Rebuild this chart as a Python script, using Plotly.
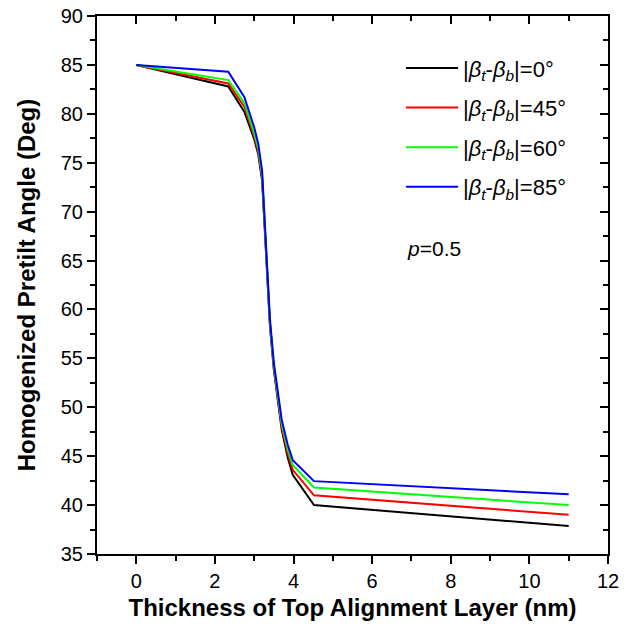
import plotly.graph_objects as go

thickness = [0, 2.34, 2.75, 3.0, 3.1, 3.2, 3.3, 3.4, 3.5, 3.6, 3.7, 3.85, 3.98, 4.52, 11.0]
angle_0 = [85, 82.8, 80.2, 77.4, 75.9, 73.2, 65.8, 58.3, 53.8, 50.7, 47.7, 44.9, 43.1, 40.0, 37.85]
angle_45 = [85, 83.1, 80.7, 77.7, 76.2, 73.5, 66.0, 58.5, 54.0, 50.9, 48.0, 45.3, 43.6, 41.0, 39.0]
angle_60 = [85, 83.45, 81.1, 78.0, 76.5, 73.8, 66.2, 58.7, 54.2, 51.1, 48.3, 45.7, 44.1, 41.8, 40.0]
angle_85 = [85, 84.3, 81.7, 78.6, 77.0, 74.2, 66.5, 59.0, 54.5, 51.5, 48.7, 46.2, 44.6, 42.45, 41.1]

x_ticks = [0, 2, 4, 6, 8, 10, 12]
x_minor = [-1, 1, 3, 5, 7, 9, 11]
y_ticks = list(range(35, 91, 5))
y_minor = [37.5 + 5 * k for k in range(11)]

series = [
    ("0", angle_0, "#000000"),
    ("45", angle_45, "#ff0000"),
    ("60", angle_60, "#00ff00"),
    ("85", angle_85, "#0000ff"),
]

FONT = "Arial, Liberation Sans, sans-serif"

fig = go.Figure()
for i, (lab, vals, col) in enumerate(series):
    name = "|<i>β</i><sub><i>t</i></sub>-<i>β</i><sub><i>b</i></sub>|=" + lab + "°"
    on_top = i == len(series) - 1
    fig.add_trace(go.Scatter(x=thickness, y=vals, mode="lines", name=name,
                             line=dict(color=col, width=2), legendgroup=str(i),
                             xaxis="x2" if on_top else "x", yaxis="y2" if on_top else "y"))

axis_common = dict(showline=True, linecolor="black", linewidth=2, showgrid=False,
                   zeroline=False, ticklen=8, tickwidth=2, tickcolor="black",
                   automargin=False, ticklabeloverflow="allow")

fig.update_layout(
    width=635, height=631,
    margin=dict(l=97, r=27, t=16, b=77),
    paper_bgcolor="white", plot_bgcolor="white",
    font=dict(family=FONT, size=20, color="black"),
    showlegend=True,
    legend=dict(x=0.595, y=0.942, xanchor="left", yanchor="top",
                font=dict(family=FONT, size=22), bgcolor="rgba(0,0,0,0)",
                tracegroupgap=8, itemwidth=52),
    xaxis=dict(range=[-1, 12], tickvals=x_ticks, ticks="outside",
               minor=dict(tickvals=x_minor, ticks="outside", ticklen=5,
                          tickwidth=2, tickcolor="black"),
               title=dict(text="<b>Thickness of Top Alignment Layer (nm)</b>",
                          font=dict(family=FONT, size=24), standoff=8),
               **axis_common),
    yaxis=dict(range=[35, 90], tickvals=y_ticks, ticks="outside",
               minor=dict(tickvals=y_minor, ticks="outside",
                          ticklen=5, tickwidth=2, tickcolor="black"),
               title=dict(text="<b>Homogenized Pretilt Angle (Deg)</b>",
                          font=dict(family=FONT, size=24), standoff=18),
               **axis_common),
    xaxis2=dict(range=[-1, 12], overlaying="x", side="top", anchor="y2", tickvals=x_ticks,
                ticks="inside", showticklabels=False,
                minor=dict(tickvals=x_minor, ticks="inside", ticklen=5,
                           tickwidth=2, tickcolor="black"),
                **axis_common),
    yaxis2=dict(range=[35, 90], overlaying="y", side="right", anchor="x2", tickvals=y_ticks,
                ticks="inside", showticklabels=False,
                minor=dict(tickvals=y_minor, ticks="inside",
                           ticklen=5, tickwidth=2, tickcolor="black"),
                **axis_common),
)

fig.add_annotation(x=6.84, y=66.2, xref="x", yref="y", xanchor="left", showarrow=False,
                   text="<i>p</i>=0.5", font=dict(family=FONT, size=21, color="black"))

fig.write_html("out.html", config={"displayModeBar": False},
               post_script="document.body.style.margin='0';")
